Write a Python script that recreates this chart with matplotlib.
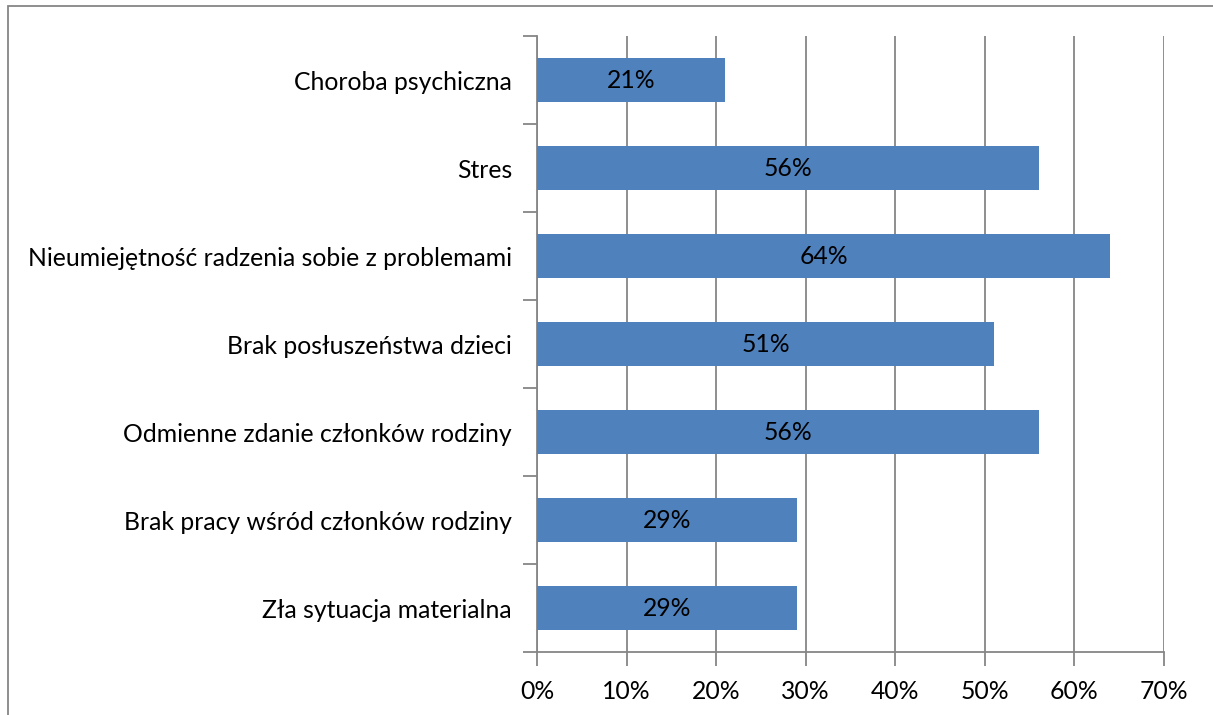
import numpy as np
import matplotlib.pyplot as plt
from matplotlib.ticker import FixedLocator, PercentFormatter
from matplotlib.patches import Rectangle

# categories listed bottom -> top
categories = [
    "Zła sytuacja materialna",
    "Brak pracy wśród członków rodziny",
    "Odmienne zdanie członków rodziny",
    "Brak posłuszeństwa dzieci",
    "Nieumiejętność radzenia sobie z problemami",
    "Stres",
    "Choroba psychiczna",
]
values = [29, 29, 56, 51, 64, 56, 21]

BAR_COLOR = "#4F81BD"
GRID_COLOR = "#868686"
FS = 17.8

plt.rcParams["font.family"] = ["Lato", "DejaVu Sans"]

fig = plt.figure(figsize=(12.13, 7.15), dpi=100)
ax = fig.add_axes([537 / 1213, 1 - 652 / 715, (1164 - 537) / 1213, (652 - 36) / 715])

y = np.arange(len(categories))
ax.barh(y, values, height=0.5, color=BAR_COLOR, zorder=3)
for yi, v in zip(y, values):
    ax.text(v / 2, yi, f"{v}%", ha="center", va="center", fontsize=FS, color="black", zorder=4)

ax.set_xlim(0, 70)
ax.set_ylim(-0.5, len(categories) - 0.5)
ax.set_xticks(np.arange(0, 71, 10))
ax.xaxis.set_major_formatter(PercentFormatter(decimals=0))
ax.grid(axis="x", color=GRID_COLOR, lw=1.3, zorder=0)

ax.set_yticks(y)
ax.set_yticklabels(categories)
ax.yaxis.set_minor_locator(FixedLocator(np.arange(-0.5, len(categories), 1.0)))
ax.tick_params(axis="y", which="major", length=0, pad=18, labelsize=FS)
ax.tick_params(axis="y", which="minor", length=10, width=1.3, color=GRID_COLOR)
ax.tick_params(axis="x", which="major", length=10, width=1.3, color=GRID_COLOR, labelsize=FS, pad=10)

for s in ("top", "right"):
    ax.spines[s].set_visible(False)
for s in ("left", "bottom"):
    ax.spines[s].set_color(GRID_COLOR)
    ax.spines[s].set_linewidth(1.3)

# chart area border
fig.patches.append(Rectangle((8 / 1213, -0.1), 1.2, 1 - 6 / 715 + 0.1,
                             transform=fig.transFigure, fill=False,
                             edgecolor=GRID_COLOR, lw=1.3))

fig.savefig("out.png", dpi=100)
